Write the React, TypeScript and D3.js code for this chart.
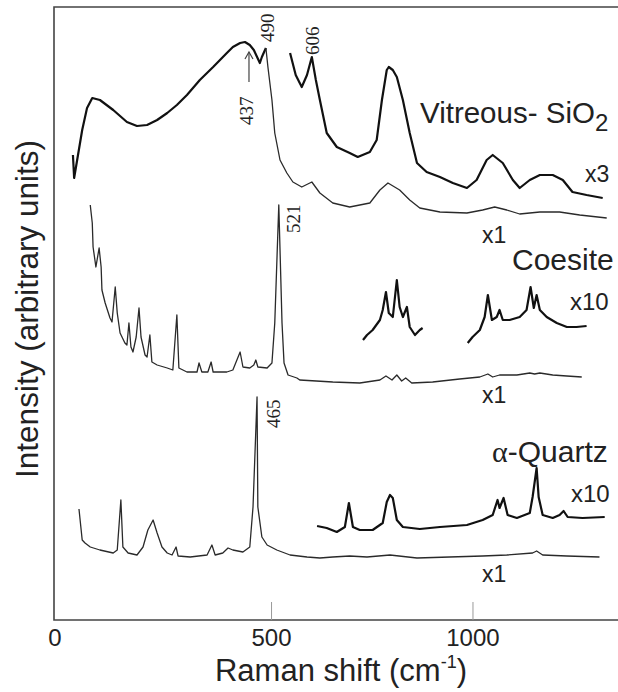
import React from "react";
import * as d3 from "d3";

// ---- Data (Raman shift in cm^-1, intensity in arbitrary units) ----
const vitreousLow: [number, number][] = [
  [7, 465], [10, 442], [30, 490], [42, 512], [55, 522], [74, 520], [107, 510], [141, 498],
  [166, 494], [191, 495], [216, 500], [241, 507], [265, 515], [290, 525], [322, 540],
  [355, 553], [389, 567], [404, 573], [422, 577], [434, 578], [446, 575], [456, 570],
  [471, 557], [476, 563], [486, 572],
];
const vitreousX1: [number, number][] = [
  [486, 572], [491, 553], [501, 520], [508, 487], [521, 460], [538, 447], [553, 438], [575, 433],
  [600, 438], [620, 427], [652, 417], [694, 413], [744, 417], [769, 430], [789, 437],
  [818, 430], [843, 420], [868, 412], [918, 408], [985, 407], [1024, 410], [1054, 413],
  [1084, 410], [1116, 406], [1166, 408], [1215, 408], [1265, 405], [1332, 402],
];
const vitreousX3: [number, number][] = [
  [546, 567], [560, 545], [575, 533], [588, 545], [600, 563], [610, 540], [620, 520],
  [637, 487], [662, 473], [694, 467], [714, 463], [744, 468], [761, 480], [774, 520],
  [786, 550], [791, 553], [801, 550], [811, 543], [826, 520], [843, 487], [861, 457],
  [885, 448], [918, 443], [950, 437], [985, 432], [1009, 440], [1034, 460], [1049, 465],
  [1074, 457], [1099, 440], [1116, 432], [1141, 440], [1166, 445], [1198, 445],
  [1223, 440], [1247, 428], [1282, 425], [1322, 422],
];
const coesiteX1: [number, number][] = [
  [50, 415], [55, 397], [57, 373], [64, 353], [72, 372], [77, 353], [79, 330], [87, 317],
  [99, 302], [104, 298], [112, 333], [117, 307], [124, 287], [136, 277], [141, 275],
  [146, 297], [151, 273], [156, 268], [164, 283], [171, 312], [176, 283], [186, 265],
  [191, 263], [198, 285], [203, 258], [216, 255], [241, 252], [255, 250], [265, 305],
  [270, 252], [290, 248], [315, 248], [320, 257], [327, 248], [342, 248], [350, 258],
  [355, 248], [389, 248], [404, 250], [422, 268], [429, 253], [446, 252], [456, 255],
  [461, 260], [466, 253], [489, 252], [501, 257], [508, 297], [518, 415], [526, 297],
  [531, 257], [541, 245], [563, 242], [570, 240], [652, 238], [719, 237], [769, 240],
  [784, 244], [799, 240], [811, 245], [823, 239], [833, 242], [848, 237], [900, 238],
  [967, 241], [1017, 243], [1037, 246], [1049, 243], [1066, 245], [1109, 245],
  [1141, 247], [1153, 246], [1166, 247], [1198, 245], [1233, 244], [1270, 243],
];
const coesiteX10a: [number, number][] = [
  [727, 280], [737, 285], [751, 290], [769, 300], [776, 310], [784, 328], [791, 307],
  [801, 303], [811, 340], [818, 313], [826, 303], [836, 313], [843, 293], [856, 285],
  [868, 290], [875, 292],
];
const coesiteX10b: [number, number][] = [
  [987, 277], [999, 283], [1017, 290], [1029, 303], [1037, 325], [1047, 300], [1059, 303],
  [1066, 310], [1074, 300], [1091, 300], [1116, 303], [1133, 310], [1143, 333],
  [1151, 312], [1158, 325], [1166, 310], [1183, 303], [1208, 297], [1233, 293],
  [1257, 293], [1282, 294],
];
const quartzX1: [number, number][] = [
  [22, 111], [30, 80], [37, 77], [50, 73], [74, 70], [107, 67], [117, 70], [126, 120],
  [131, 73], [144, 67], [166, 65], [181, 73], [193, 90], [206, 100], [216, 87], [228, 73],
  [241, 67], [253, 65], [263, 73], [268, 64], [298, 63], [340, 65], [352, 75], [360, 65],
  [379, 67], [392, 72], [404, 70], [429, 68], [446, 73], [454, 113], [464, 223],
  [466, 113], [476, 83], [489, 75], [513, 70], [546, 65], [588, 63], [620, 62], [652, 63],
  [694, 64], [737, 63], [794, 65], [861, 62], [942, 63], [1024, 64], [1084, 65],
  [1148, 67], [1158, 69], [1173, 65], [1233, 64], [1314, 63],
];
const quartzX10: [number, number][] = [
  [613, 94], [637, 92], [662, 88], [682, 93], [692, 117], [702, 93], [719, 90], [751, 90],
  [776, 97], [786, 118], [794, 125], [801, 122], [811, 100], [826, 93], [868, 91],
  [918, 93], [985, 95], [1024, 100], [1049, 105], [1061, 120], [1066, 112], [1076, 122],
  [1086, 105], [1109, 102], [1141, 107], [1148, 123], [1158, 152], [1163, 123],
  [1173, 105], [1198, 102], [1215, 105], [1225, 109], [1235, 103], [1272, 102],
  [1327, 103],
];

const xTickValues = [500, 1000];
const xTickLabels = ["0", "500", "1000"];

// peak annotations: [label, label anchor shift, label anchor intensity]
const peakLabels: [string, number, number][] = [
  ["437", 439, 495],
  ["490", 490, 578],
  ["606", 603, 565],
  ["521", 556, 387],
  ["465", 506, 192],
];

// ---- Layout ----
const W = 618;
const H = 692;
const left = 54;
const right = 618;
const top = 7;
const bottom = 620;

export default function App() {
  const x = d3.scaleLinear().domain([-40, 1360]).range([left, right]);
  const y = d3.scaleLinear().domain([0, 613]).range([bottom, top]);
  const line = d3
    .line<[number, number]>()
    .x((d) => x(d[0]))
    .y((d) => y(d[1]));

  const sans = "'Liberation Sans', Arial, Helvetica, sans-serif";
  const serif = "'Liberation Serif', 'Times New Roman', serif";
  const thin = { fill: "none", stroke: "#2a2a2a", strokeWidth: 1.3, strokeLinejoin: "round" as const };
  const thick = { fill: "none", stroke: "#111", strokeWidth: 2.2, strokeLinejoin: "round" as const };

  return (
    <svg
      width={W}
      height={H}
      style={{ position: "absolute", left: 0, top: 0, background: "#fff" }}
    >
      {/* frame */}
      <path
        d={`M${right},${top}H${left}V${bottom}H${right}`}
        fill="none"
        stroke="#444"
        strokeWidth={1.6}
      />
      {xTickValues.map((t) => (
        <line key={t} x1={x(t)} x2={x(t)} y1={bottom} y2={bottom - 18} stroke="#999" strokeWidth={1} />
      ))}
      {xTickLabels.map((lbl, i) => (
        <text
          key={lbl}
          x={i === 0 ? x.range()[0] + 1 : x(xTickValues[i - 1])}
          y={646}
          textAnchor="middle"
          fontFamily={sans}
          fontSize={24}
          fill="#222"
        >
          {lbl}
        </text>
      ))}
      <text x={341} y={681} textAnchor="middle" fontFamily={sans} fontSize={31} fill="#222">
        Raman shift (cm
        <tspan fontSize={18} dy={-13}>-1</tspan>
        <tspan dy={13}>)</tspan>
      </text>
      <text
        transform={`translate(38,309) rotate(-90)`}
        textAnchor="middle"
        fontFamily={sans}
        fontSize={31.5}
        fill="#222"
      >
        Intensity (arbitrary units)
      </text>

      {/* spectra */}
      <path d={line(vitreousLow) || ""} {...thick} />
      <path d={line(vitreousX1) || ""} {...thin} />
      <path d={line(vitreousX3) || ""} {...thick} />
      <path d={line(coesiteX1) || ""} {...thin} />
      <path d={line(coesiteX10a) || ""} {...thick} />
      <path d={line(coesiteX10b) || ""} {...thick} />
      <path d={line(quartzX1) || ""} {...thin} />
      <path d={line(quartzX10) || ""} {...thick} />

      {/* peak labels */}
      {peakLabels.map(([lbl, sx, iy]) => (
        <text
          key={lbl}
          transform={`translate(${x(sx) + 6},${y(iy)}) rotate(-90)`}
          fontFamily={serif}
          fontSize={19}
          fill="#222"
        >
          {lbl}
        </text>
      ))}
      {/* 437 arrow */}
      <g stroke="#444" strokeWidth={1.2} fill="none">
        <line x1={x(444)} x2={x(444)} y1={y(538)} y2={y(568)} />
        <path d={`M${x(444) - 4},${y(561)}L${x(444)},${y(568)}L${x(444) + 4},${y(561)}`} />
      </g>

      {/* series labels */}
      <g fontFamily={sans} fill="#222">
        <text x={420} y={123} fontSize={29.5}>
          Vitreous- SiO<tspan fontSize={24} dy={8}>2</tspan>
        </text>
        <text x={585} y={182} fontSize={23}>x3</text>
        <text x={482} y={243} fontSize={23}>x1</text>
        <text x={512} y={270} fontSize={30}>Coesite</text>
        <text x={570} y={310} fontSize={24}>x10</text>
        <text x={482} y={403} fontSize={23}>x1</text>
        <text x={492} y={462} fontSize={30}>
          <tspan fontFamily={serif}>α</tspan>-Quartz
        </text>
        <text x={571} y={502} fontSize={24}>x10</text>
        <text x={482} y={582} fontSize={23}>x1</text>
      </g>
    </svg>
  );
}
